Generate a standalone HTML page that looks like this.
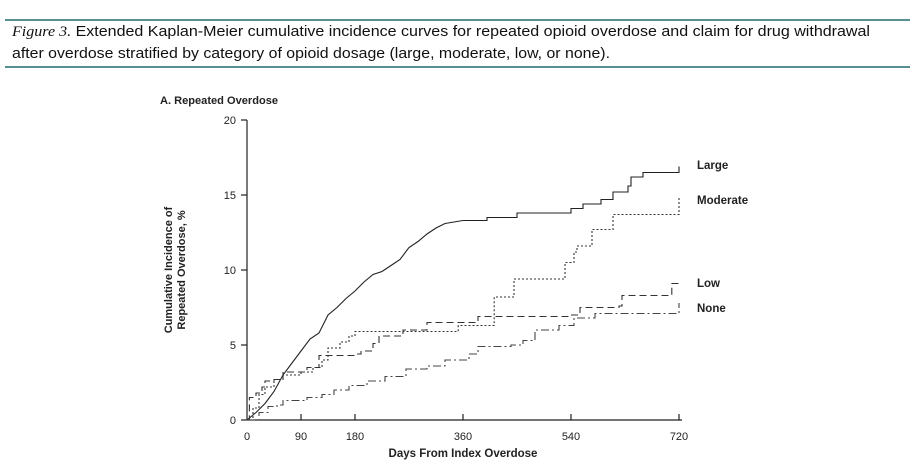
<!DOCTYPE html>
<html><head><meta charset="utf-8"><style>
body{margin:0;background:#fff;width:920px;height:463px;overflow:hidden;font-family:"Liberation Sans",sans-serif}
</style></head><body>
<svg width="920" height="463" viewBox="0 0 920 463" xmlns="http://www.w3.org/2000/svg" font-family="Liberation Sans, sans-serif">
<line x1="5" y1="20" x2="910" y2="20" stroke="#1f6b6b" stroke-width="1.5"/>
<line x1="5" y1="67" x2="910" y2="67" stroke="#1f6b6b" stroke-width="1.5"/>
<text x="12" y="36" font-size="14.5" fill="#111" textLength="858" lengthAdjust="spacingAndGlyphs"><tspan font-family="Liberation Serif, serif" font-style="italic">Figure 3.</tspan> Extended Kaplan-Meier cumulative incidence curves for repeated opioid overdose and claim for drug withdrawal</text>
<text x="12" y="58" font-size="14.5" fill="#111" textLength="598" lengthAdjust="spacingAndGlyphs">after overdose stratified by category of opioid dosage (large, moderate, low, or none).</text>
<text x="160" y="104" font-size="11" font-weight="bold" fill="#222" textLength="118" lengthAdjust="spacingAndGlyphs">A. Repeated Overdose</text>
<g stroke="#222" stroke-width="1.2" fill="none">
<line x1="247" y1="120" x2="247" y2="420"/>
<line x1="247" y1="420" x2="682" y2="420"/>
<line x1="241" y1="120" x2="247" y2="120"/><line x1="241" y1="195" x2="247" y2="195"/><line x1="241" y1="270" x2="247" y2="270"/><line x1="241" y1="345" x2="247" y2="345"/><line x1="241" y1="420" x2="247" y2="420"/>
<line x1="301" y1="420" x2="301" y2="414"/><line x1="355" y1="420" x2="355" y2="414"/><line x1="463" y1="420" x2="463" y2="414"/><line x1="571" y1="420" x2="571" y2="414"/><line x1="679" y1="420" x2="679" y2="414"/>
</g>
<g font-size="11" fill="#222" text-anchor="end">
<text x="236" y="124">20</text><text x="236" y="199">15</text><text x="236" y="274">10</text><text x="236" y="349">5</text><text x="236" y="424">0</text>
</g>
<g font-size="11" fill="#222" text-anchor="middle">
<text x="247" y="440">0</text><text x="301" y="440">90</text><text x="355" y="440">180</text><text x="463" y="440">360</text><text x="571" y="440">540</text><text x="679" y="440">720</text>
</g>
<text x="463" y="457" font-size="11.5" font-weight="bold" fill="#222" text-anchor="middle">Days From Index Overdose</text>
<text transform="translate(172,270) rotate(-90)" font-size="11" font-weight="bold" fill="#222" text-anchor="middle">Cumulative Incidence of</text>
<text transform="translate(185,270) rotate(-90)" font-size="11" font-weight="bold" fill="#222" text-anchor="middle">Repeated Overdose, %</text>
<g font-size="11.5" font-weight="bold" fill="#222">
<text x="697" y="169">Large</text><text x="697" y="204">Moderate</text><text x="697" y="287">Low</text><text x="697" y="312">None</text>
</g>
<g id="curves" fill="none" stroke-width="1.1"></g>
</svg>
<script>
function P(pts,step){var s='';for(var i=0;i<pts.length;i++){var x=247+0.6*pts[i][0],y=420-15*pts[i][1];if(i==0)s='M'+x+' '+y;else{if(step)s+=' H'+x+' V'+y;else s+=' L'+x+' '+y;}}return s;}
var L1=[[0,0],[15,0.5],[30,1.1],[45,1.9],[60,3],[75,3.8],[90,4.6],[105,5.4],[120,5.8],[135,7],[150,7.5],[165,8.1],[180,8.6],[195,9.2],[210,9.7],[225,9.9],[240,10.3],[255,10.7],[270,11.5],[285,11.9],[300,12.4],[315,12.8],[330,13.1],[360,13.3]];
var L2=[[360,13.3],[400,13.5],[450,13.8],[540,14.1],[560,14.4],[590,14.7],[610,15.2],[635,15.6],[640,16.2],[660,16.5],[718,16.5],[720,16.9]];
var M=[[0,0],[10,0.8],[20,1.7],[30,2.2],[45,2.7],[60,3],[90,3.2],[110,3.5],[125,4],[135,4.8],[155,5.2],[170,5.6],[180,5.9],[350,5.9],[352,6.3],[410,6.3],[412,8.2],[440,8.2],[445,9.4],[525,9.4],[530,10.5],[545,11.2],[550,11.6],[570,11.6],[575,12.7],[605,12.7],[610,13.7],[718,13.7],[720,14.8]];
var Lo=[[0,0],[4,1.5],[15,1.8],[25,2.2],[30,2.6],[45,2.7],[60,3.2],[100,3.5],[120,4.3],[180,4.4],[190,4.6],[210,5.1],[220,5.6],[260,6],[300,6.5],[380,6.6],[385,6.9],[540,7],[555,7.5],[620,7.6],[625,8.3],[705,8.3],[708,9.1],[720,9.1]];
var N=[[0,0],[20,0.5],[35,0.9],[50,1],[60,1.3],[100,1.5],[125,1.7],[145,2],[170,2.3],[200,2.6],[230,2.9],[265,3.4],[300,3.6],[330,4],[370,4.4],[385,4.9],[440,5],[460,5.3],[480,6],[520,6.3],[545,6.8],[580,7.1],[715,7.1],[720,7.8]];
var g=document.getElementById('curves');
function add(d,st,da){var p=document.createElementNS('http://www.w3.org/2000/svg','path');p.setAttribute('d',d);p.setAttribute('stroke',st);if(da)p.setAttribute('stroke-dasharray',da);g.appendChild(p);}
add(P(L1,false),'#222','');
add(P(L2,true),'#222','');
add(P(M,true),'#333','2,2');
add(P(Lo,true),'#333','7,4');
add(P(N,true),'#444','8,3,2,3');
</script>
</body></html>
